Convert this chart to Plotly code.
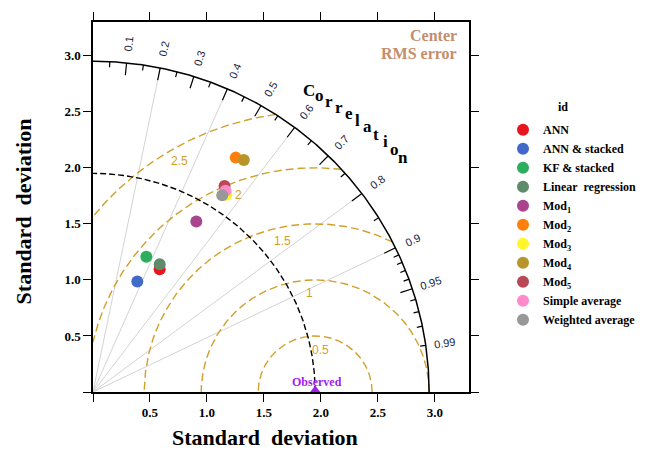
import numpy as np
import plotly.graph_objects as go

# ---------------- data ----------------
models = ["ANN", "ANN & stacked", "KF & stacked", "Linear  regression",
          "Mod<sub>1</sub>", "Mod<sub>2</sub>", "Mod<sub>3</sub>", "Mod<sub>4</sub>",
          "Mod<sub>5</sub>", "Simple average", "Weighted average"]
model_sd = [1.242, 1.060, 1.293, 1.281, 1.771, 2.437, 2.113, 2.456, 2.170, 2.138, 2.089]
model_cor = [0.471, 0.367, 0.362, 0.457, 0.512, 0.514, 0.554, 0.539, 0.532, 0.544, 0.543]
model_colors = ["#E8141E", "#4169C9", "#2CAE5E", "#5E8B6C", "#A9448F", "#FF7F0A",
                "#FFF52A", "#B8952A", "#B84855", "#FF8ACB", "#989898"]
legend_title = "id"

obs_name = "Observed"
obs_sd = 1.95
max_sd = 2.95

rms_levels = [0.5, 1.0, 1.5, 2.0, 2.5]
rms_labels = ["0.5", "1", "1.5", "2", "2.5"]
rms_label_angle = [83, 93, 102, 111, 120]

corr_grid = [0.2, 0.4, 0.6, 0.8, 0.9]
corr_labels = [0.1, 0.2, 0.3, 0.4, 0.5, 0.6, 0.7, 0.8, 0.9, 0.95, 0.99]
corr_major_ticks = [0.1, 0.2, 0.3, 0.4, 0.5, 0.6, 0.7, 0.8, 0.9, 0.95]
corr_minor_ticks = [0.05, 0.15, 0.25, 0.35, 0.45, 0.55, 0.65, 0.75, 0.85,
                    0.91, 0.92, 0.93, 0.94, 0.96, 0.97, 0.98, 0.99]
corr_title = "Correlation"

sd_ticks = [0, 0.5, 1.0, 1.5, 2.0, 2.5, 3.0]
sd_ticktext = ["", "0.5", "1.0", "1.5", "2.0", "2.5", "3.0"]

SERIF = "Liberation Serif, Times New Roman, serif"
SANS = "Liberation Sans, Arial, sans-serif"
GOLD = "#D1A02A"

fig = go.Figure()

# grey correlation lines
gx, gy = [], []
for c in corr_grid:
    s = np.sqrt(1 - c * c)
    gx += [0, max_sd * c, None]
    gy += [0, max_sd * s, None]
fig.add_trace(go.Scatter(x=gx, y=gy, mode="lines", line=dict(color="#d3d3d3", width=1),
                         hoverinfo="skip", showlegend=False))

# centred RMS contours
phi = np.linspace(0, np.pi, 1441)
for r in rms_levels:
    x = obs_sd + r * np.cos(phi)
    y = r * np.sin(phi)
    mask = (x >= 0) & (np.hypot(x, y) <= max_sd)
    xl = [float(a) if m else None for a, m in zip(x, mask)]
    yl = [float(b) if m else None for b, m in zip(y, mask)]
    fig.add_trace(go.Scatter(x=xl, y=yl, mode="lines",
                             line=dict(color=GOLD, width=1.4, dash="8px,4px"),
                             hoverinfo="skip", showlegend=False))

# reference sd arc (dashed black)
th = np.linspace(0, np.pi / 2, 400)
fig.add_trace(go.Scatter(x=obs_sd * np.cos(th), y=obs_sd * np.sin(th), mode="lines",
                         line=dict(color="black", width=1.4, dash="6px,3px"),
                         hoverinfo="skip", showlegend=False))

# outer arc
fig.add_trace(go.Scatter(x=max_sd * np.cos(th), y=max_sd * np.sin(th), mode="lines",
                         line=dict(color="black", width=1.5),
                         hoverinfo="skip", showlegend=False))

# correlation ticks on outer arc
tx, ty = [], []
for c in corr_major_ticks:
    s = np.sqrt(1 - c * c)
    tx += [max_sd * c, (max_sd - 0.11) * c, None]
    ty += [max_sd * s, (max_sd - 0.11) * s, None]
for c in corr_minor_ticks:
    s = np.sqrt(1 - c * c)
    tx += [max_sd * c, (max_sd - 0.05) * c, None]
    ty += [max_sd * s, (max_sd - 0.05) * s, None]
fig.add_trace(go.Scatter(x=tx, y=ty, mode="lines", line=dict(color="black", width=1.2),
                         hoverinfo="skip", showlegend=False))

# observed point
fig.add_trace(go.Scatter(x=[obs_sd], y=[0], mode="markers",
                         marker=dict(symbol="triangle-up", size=13, color="#A020F0"),
                         hoverinfo="skip", showlegend=False))

# model points
for name, sd, cr, col in zip(models, model_sd, model_cor, model_colors):
    fig.add_trace(go.Scatter(x=[sd * cr], y=[sd * np.sqrt(1 - cr * cr)], mode="markers",
                             name=name, marker=dict(symbol="circle", size=12, color=col,
                                                    line=dict(width=0))))

ann = []
# correlation labels
for c in corr_labels:
    t = np.arccos(c)
    R = 3.12
    ann.append(dict(x=R * np.cos(t), y=R * np.sin(t), xref="x", yref="y",
                    text=str(c), showarrow=False, textangle=-np.degrees(t),
                    font=dict(family=SANS, size=11, color="#1c2340")))

# RMS labels
for r, lab, a in zip(rms_levels, rms_labels, rms_label_angle):
    rr = r - 0.12
    ann.append(dict(x=obs_sd + rr * np.cos(np.radians(a)), y=rr * np.sin(np.radians(a)),
                    xref="x", yref="y", text=lab, showarrow=False,
                    font=dict(family=SANS, size=12, color=GOLD)))

# "Correlation" curved title
n = len(corr_title)
a0, a1 = 54.8, 37.6
r0, r1 = 3.29, 3.43
for i, ch in enumerate(corr_title):
    f = i / (n - 1)
    a = np.radians(a0 + (a1 - a0) * f)
    rr = r0 + (r1 - r0) * f
    ann.append(dict(x=rr * np.cos(a), y=rr * np.sin(a), xref="x", yref="y", text=ch,
                    showarrow=False,
                    font=dict(family=SERIF, size=17, color="black", weight="bold")))

# observed label
ann.append(dict(x=obs_sd + 0.02, y=0.085, xref="x", yref="y", text=obs_name, showarrow=False,
                font=dict(family=SERIF, size=12, color="#A020F0", weight="bold")))

# Center RMS error
ann.append(dict(x=(459 - 93) / 376, y=(392 - 29) / 377, xref="paper", yref="paper",
                text="Center", showarrow=False, xanchor="right", yanchor="middle",
                font=dict(family=SERIF, size=16, color="#C48D6B", weight="bold")))
ann.append(dict(x=(459 - 93) / 376, y=(392 - 47) / 377, xref="paper", yref="paper",
                text="RMS error", showarrow=False, xanchor="right", yanchor="middle",
                font=dict(family=SERIF, size=16, color="#C48D6B", weight="bold")))

# legend title
ann.append(dict(x=(563 - 93) / 376, y=(392 - 102) / 377, xref="paper", yref="paper",
                text=legend_title, showarrow=False, xanchor="center", yanchor="middle",
                font=dict(family=SERIF, size=12, color="black", weight="bold")))

# axis titles
ann.append(dict(x=(265 - 93) / 376, y=(392 - 438) / 377, xref="paper", yref="paper",
                text="Standard\u00a0 deviation", showarrow=False,
                xanchor="center", yanchor="middle",
                font=dict(family=SERIF, size=22, color="black", weight="bold")))
ann.append(dict(x=(23 - 93) / 376, y=(392 - 208) / 377, xref="paper", yref="paper",
                text="Standard\u00a0 deviation", showarrow=False, textangle=-90,
                xanchor="center", yanchor="middle",
                font=dict(family=SERIF, size=22, color="black", weight="bold")))

axis_common = dict(range=[0, 3.3], tickvals=sd_ticks, ticktext=sd_ticktext,
                   ticks="outside", ticklen=8, tickwidth=1.3, tickcolor="black",
                   showline=True, linecolor="black", linewidth=1.5, mirror="allticks",
                   showgrid=False, zeroline=False,
                   tickfont=dict(family=SERIF, size=13, color="black", weight="bold"))

fig.update_layout(
    width=670, height=454,
    margin=dict(l=93, r=201, t=15, b=62),
    plot_bgcolor="white", paper_bgcolor="white",
    xaxis=axis_common, yaxis=axis_common,
    annotations=ann,
    legend=dict(x=(503 - 93) / 376, y=(392 - 110) / 377, xanchor="left", yanchor="top",
                font=dict(family=SERIF, size=12, color="black", weight="bold"),
                bgcolor="rgba(0,0,0,0)"),
    showlegend=True,
)

fig.write_html("out.html")
